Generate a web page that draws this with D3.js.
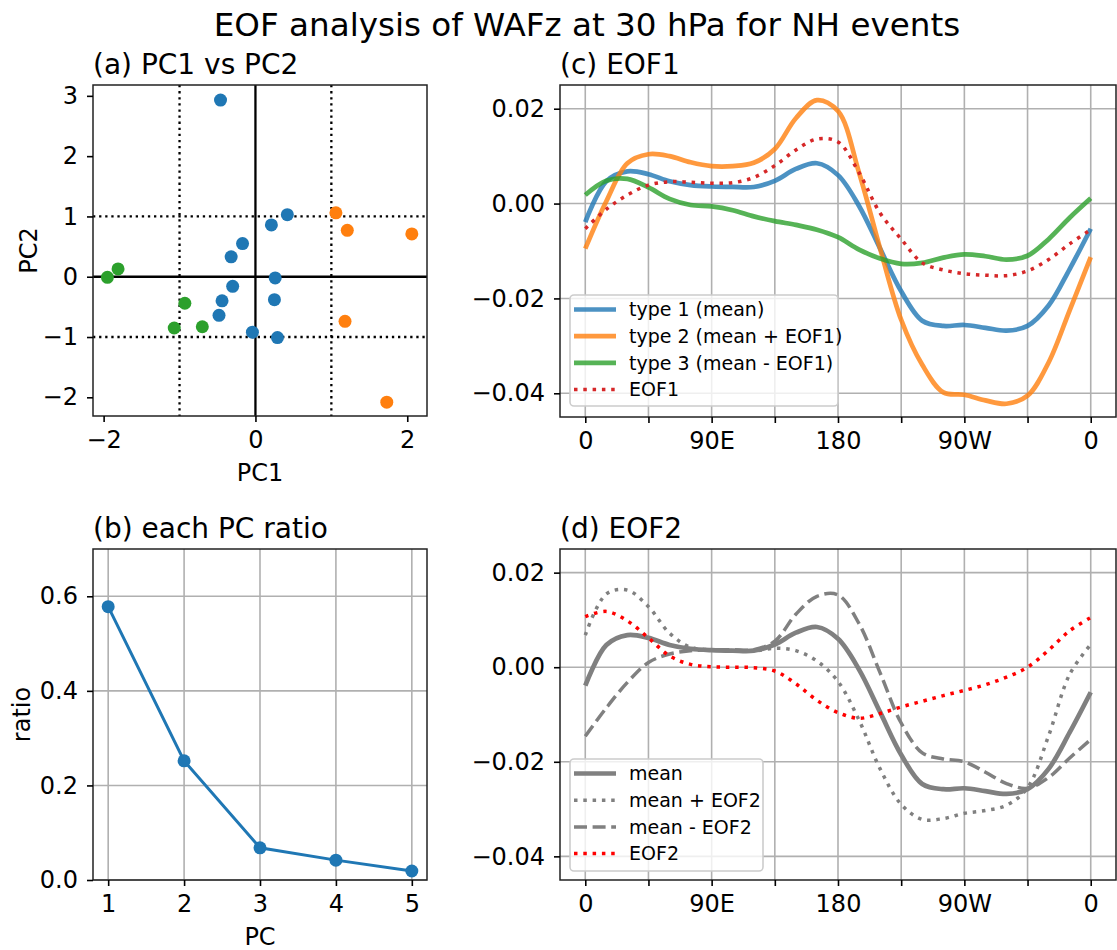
<!DOCTYPE html>
<html>
<head>
<meta charset="utf-8">
<script src="https://cdn.jsdelivr.net/npm/d3@7"></script>
<style>
  body { margin: 0; background: #fff; }
  text { font-family: "DejaVu Sans", sans-serif; fill: #000; }
</style>
</head>
<body>
<svg id="fig" width="1117" height="950"></svg>
<script>
// ---- data ----
var suptitle = "EOF analysis of WAFz at 30 hPa for NH events";
var panelTitles = ["(a) PC1 vs PC2", "(b) each PC ratio", "(c) EOF1", "(d) EOF2"];

// (a) scatter of PC1 / PC2 by event type
var type1PC1 = [-0.46, 0.42, 0.21, -0.17, -0.32, 0.26, -0.30, -0.44, 0.25, -0.48, -0.04, 0.29];
var type1PC2 = [2.93, 1.03, 0.86, 0.55, 0.33, -0.02, -0.16, -0.40, -0.38, -0.64, -0.92, -1.01];
var type2PC1 = [1.06, 1.21, 2.06, 1.18, 1.73];
var type2PC2 = [1.06, 0.77, 0.71, -0.74, -2.08];
var type3PC1 = [-1.95, -1.81, -0.93, -1.07, -0.70];
var type3PC2 = [-0.01, 0.13, -0.44, -0.85, -0.83];

// (b) explained variance ratio
var pcIndex = [1, 2, 3, 4, 5];
var pcRatio = [0.578, 0.252, 0.068, 0.042, 0.019];

// (c),(d) longitude profiles, every 15 degrees
var lons = [0, 15, 30, 45, 60, 75, 90, 105, 120, 135, 150, 165, 180, 195, 210, 225, 240, 255, 270, 285, 300, 315, 330, 345, 360];
var lonTicks = [0, 45, 90, 135, 180, 225, 270, 315, 360];
var lonTickLabels = ["0", "", "90E", "", "180", "", "90W", "", "0"];

var meanVals = [-0.0039, 0.0047, 0.0068, 0.0062, 0.0047, 0.0039, 0.0036, 0.0035, 0.0035, 0.0048, 0.0073, 0.0085, 0.0060,
  -0.0005, -0.0095, -0.0185, -0.0247, -0.0258, -0.0256, -0.0262, -0.0268, -0.0258, -0.0215, -0.0138, -0.0053];
var type2Vals = [-0.0095, 0.0005, 0.0085, 0.0104, 0.0100, 0.0087, 0.0079, 0.0079, 0.0086, 0.0115, 0.0180, 0.0218, 0.0195,
  0.0065, -0.0095, -0.0245, -0.0340, -0.0398, -0.0403, -0.0415, -0.0422, -0.0405, -0.0335, -0.0225, -0.0113];
var type3Vals = [0.0018, 0.0048, 0.0052, 0.0034, 0.0010, -0.0003, -0.0006, -0.0014, -0.0027, -0.0037, -0.0045, -0.0055, -0.0071,
  -0.0097, -0.0116, -0.0127, -0.0125, -0.0114, -0.0107, -0.0111, -0.0118, -0.0110, -0.0075, -0.0030, 0.0011];
var eof1Vals = [-0.0053, -0.0012, 0.0018, 0.0039, 0.0046, 0.0045, 0.0043, 0.0044, 0.0055, 0.0080, 0.0113, 0.0136, 0.0130,
  0.0065, -0.0020, -0.0075, -0.0125, -0.0140, -0.0148, -0.0151, -0.0152, -0.0142, -0.0118, -0.0085, -0.0055];
var plusEof2Vals = [0.0068, 0.0155, 0.0163, 0.0128, 0.0072, 0.0042, 0.0037, 0.0035, 0.0034, 0.0040, 0.0035, 0.0013, -0.0030,
  -0.0112, -0.0215, -0.0290, -0.0322, -0.0320, -0.0309, -0.0303, -0.0292, -0.0255, -0.0145, -0.0015, 0.0048];
var minusEof2Vals = [-0.0146, -0.0086, -0.0032, 0.0010, 0.0028, 0.0035, 0.0037, 0.0037, 0.0037, 0.0055, 0.0112, 0.0150, 0.0153,
  0.0092, -0.0012, -0.0118, -0.0181, -0.0194, -0.0200, -0.0222, -0.0246, -0.0256, -0.0233, -0.0192, -0.0153];
var eof2Vals = [0.0107, 0.0118, 0.0098, 0.0062, 0.0024, 0.0006, 0.0001, 0.0000, -0.0001, -0.0008, -0.0035, -0.0070, -0.0096,
  -0.0108, -0.0098, -0.0084, -0.0072, -0.0060, -0.0049, -0.0037, -0.0021, 0.0000, 0.0036, 0.0077, 0.0105];

var profileTicks = [0.02, 0.00, -0.02, -0.04];

// ---- figure ----
var svg = d3.select('#fig');
var tickFont = 24;
var tickLen = 6, tickPad = 9;
var gridColor = '#b0b0b0';

var blue = '#1f77b4', orange = '#ff7f0e', green = '#2ca02c', red = '#d62728';

// panel boxes [left, top, right, bottom]
var boxA = [93, 85, 427, 416];
var boxB = [93, 549, 427, 880];
var boxC = [560, 85, 1116, 417];
var boxD = [560, 549, 1116, 880];

function styleAxis(g) {
    g.select('.domain').remove();
    g.attr('font-size', tickFont).attr('font-family', 'DejaVu Sans');
    g.selectAll('.tick line').attr('stroke', '#000').attr('stroke-width', 1.6);
    g.selectAll('.tick text').attr('fill', '#000');
}

function drawFrame(box) {
    svg.append('rect')
        .attr('x', box[0]).attr('y', box[1])
        .attr('width', box[2] - box[0]).attr('height', box[3] - box[1])
        .attr('fill', 'none').attr('stroke', '#222').attr('stroke-width', 1.5);
}

function panelTitle(box, txt) {
    svg.append('text')
        .attr('x', box[0]).attr('y', box[1] - 11)
        .attr('font-size', 28)
        .text(txt);
}

function drawGrid(box, x, y, xv, yv) {
    var g = svg.append('g');
    g.selectAll('.gx').data(xv).enter().append('line')
        .attr('x1', function(d) { return x(d); }).attr('x2', function(d) { return x(d); })
        .attr('y1', box[1]).attr('y2', box[3])
        .attr('stroke', gridColor).attr('stroke-width', 1.6);
    g.selectAll('.gy').data(yv).enter().append('line')
        .attr('y1', function(d) { return y(d); }).attr('y2', function(d) { return y(d); })
        .attr('x1', box[0]).attr('x2', box[2])
        .attr('stroke', gridColor).attr('stroke-width', 1.6);
}

// suptitle
svg.append('text')
    .attr('x', 587).attr('y', 36)
    .attr('text-anchor', 'middle')
    .attr('font-size', 32.6)
    .text(suptitle);

// ---------- (a) PC1 vs PC2 ----------
var xA = d3.scaleLinear().domain([-2.14, 2.26]).range([boxA[0], boxA[2]]);
var yA = d3.scaleLinear().domain([-2.31, 3.18]).range([boxA[3], boxA[1]]);

// reference lines
[-1, 1].forEach(function(v) {
    svg.append('line').attr('x1', xA(v)).attr('x2', xA(v)).attr('y1', boxA[1]).attr('y2', boxA[3])
        .attr('stroke', '#000').attr('stroke-width', 2.3).attr('stroke-dasharray', '2.3,3.8');
    svg.append('line').attr('y1', yA(v)).attr('y2', yA(v)).attr('x1', boxA[0]).attr('x2', boxA[2])
        .attr('stroke', '#000').attr('stroke-width', 2.3).attr('stroke-dasharray', '2.3,3.8');
});
svg.append('line').attr('x1', xA(0)).attr('x2', xA(0)).attr('y1', boxA[1]).attr('y2', boxA[3])
    .attr('stroke', '#000').attr('stroke-width', 2.3);
svg.append('line').attr('y1', yA(0)).attr('y2', yA(0)).attr('x1', boxA[0]).attr('x2', boxA[2])
    .attr('stroke', '#000').attr('stroke-width', 2.3);

var groups = [
    { px: type1PC1, py: type1PC2, color: blue },
    { px: type2PC1, py: type2PC2, color: orange },
    { px: type3PC1, py: type3PC2, color: green }
];
groups.forEach(function(gr) {
    svg.append('g').selectAll('circle')
        .data(d3.range(gr.px.length))
        .enter().append('circle')
        .attr('cx', function(i) { return xA(gr.px[i]); })
        .attr('cy', function(i) { return yA(gr.py[i]); })
        .attr('r', 6.5)
        .attr('fill', gr.color);
});

drawFrame(boxA);
svg.append('g').attr('transform', 'translate(0,' + boxA[3] + ')')
    .call(d3.axisBottom(xA).tickValues([-2, 0, 2]).tickFormat(d3.format('d')).tickSize(tickLen).tickPadding(tickPad))
    .call(styleAxis);
svg.append('g').attr('transform', 'translate(' + boxA[0] + ',0)')
    .call(d3.axisLeft(yA).tickValues([-2, -1, 0, 1, 2, 3]).tickFormat(d3.format('d')).tickSize(tickLen).tickPadding(tickPad))
    .call(styleAxis);
panelTitle(boxA, panelTitles[0]);
svg.append('text').attr('x', (boxA[0] + boxA[2]) / 2).attr('y', 481)
    .attr('text-anchor', 'middle').attr('font-size', tickFont).text('PC1');
svg.append('text').attr('transform', 'translate(37,' + ((boxA[1] + boxA[3]) / 2) + ') rotate(-90)')
    .attr('text-anchor', 'middle').attr('font-size', tickFont).text('PC2');

// ---------- (b) each PC ratio ----------
var xB = d3.scaleLinear().domain([0.8, 5.2]).range([boxB[0], boxB[2]]);
var yB = d3.scaleLinear().domain([0, 0.7]).range([boxB[3], boxB[1]]);
drawGrid(boxB, xB, yB, pcIndex, [0, 0.2, 0.4, 0.6]);

var lineB = d3.line()
    .x(function(i) { return xB(pcIndex[i]); })
    .y(function(i) { return yB(pcRatio[i]); });
svg.append('path').datum(d3.range(pcIndex.length))
    .attr('d', lineB).attr('fill', 'none').attr('stroke', blue).attr('stroke-width', 3);
svg.append('g').selectAll('circle')
    .data(d3.range(pcIndex.length))
    .enter().append('circle')
    .attr('cx', function(i) { return xB(pcIndex[i]); })
    .attr('cy', function(i) { return yB(pcRatio[i]); })
    .attr('r', 6.5).attr('fill', blue);

drawFrame(boxB);
svg.append('g').attr('transform', 'translate(0,' + boxB[3] + ')')
    .call(d3.axisBottom(xB).tickValues(pcIndex).tickFormat(d3.format('d')).tickSize(tickLen).tickPadding(tickPad))
    .call(styleAxis);
svg.append('g').attr('transform', 'translate(' + boxB[0] + ',0)')
    .call(d3.axisLeft(yB).tickValues([0, 0.2, 0.4, 0.6]).tickFormat(d3.format('.1f')).tickSize(tickLen).tickPadding(tickPad))
    .call(styleAxis);
panelTitle(boxB, panelTitles[1]);
svg.append('text').attr('x', (boxB[0] + boxB[2]) / 2).attr('y', 945)
    .attr('text-anchor', 'middle').attr('font-size', tickFont).text('PC');
svg.append('text').attr('transform', 'translate(30,' + ((boxB[1] + boxB[3]) / 2) + ') rotate(-90)')
    .attr('text-anchor', 'middle').attr('font-size', tickFont).text('ratio');

// ---------- (c) and (d) profiles ----------
function profilePanel(box, title, series, legendBox) {
    var x = d3.scaleLinear().domain([-18, 378]).range([box[0], box[2]]);
    var y = d3.scaleLinear().domain([-0.045, 0.025]).range([box[3], box[1]]);
    drawGrid(box, x, y, lonTicks, profileTicks);

    var line = d3.line()
        .x(function(d, i) { return x(lons[i]); })
        .y(function(d) { return y(d); })
        .curve(d3.curveCatmullRom.alpha(0.5));

    series.forEach(function(s) {
        svg.append('path').datum(s.values)
            .attr('d', line)
            .attr('fill', 'none')
            .attr('stroke', s.color)
            .attr('stroke-width', s.width)
            .attr('stroke-opacity', s.opacity)
            .attr('stroke-dasharray', s.dash);
    });

    drawFrame(box);
    svg.append('g').attr('transform', 'translate(0,' + box[3] + ')')
        .call(d3.axisBottom(x).tickValues(lonTicks)
            .tickFormat(function(d, i) { return lonTickLabels[i]; })
            .tickSize(tickLen).tickPadding(tickPad))
        .call(styleAxis);
    svg.append('g').attr('transform', 'translate(' + box[0] + ',0)')
        .call(d3.axisLeft(y).tickValues(profileTicks).tickFormat(d3.format('.2f')).tickSize(tickLen).tickPadding(tickPad))
        .call(styleAxis);
    panelTitle(box, title);

    // legend
    var lg = svg.append('g');
    lg.append('rect')
        .attr('x', legendBox[0]).attr('y', legendBox[1])
        .attr('width', legendBox[2] - legendBox[0]).attr('height', legendBox[3] - legendBox[1])
        .attr('rx', 4)
        .attr('fill', '#fff').attr('fill-opacity', 0.8)
        .attr('stroke', '#cccccc').attr('stroke-width', 1.6);
    series.forEach(function(s, i) {
        var yy = legendBox[1] + 14.5 + i * 26.7;
        lg.append('line')
            .attr('x1', legendBox[0] + 4).attr('x2', legendBox[0] + 46)
            .attr('y1', yy).attr('y2', yy)
            .attr('stroke', s.color).attr('stroke-width', s.width)
            .attr('stroke-opacity', s.opacity).attr('stroke-dasharray', s.dash);
        lg.append('text')
            .attr('x', legendBox[0] + 59).attr('y', yy)
            .attr('dy', '0.35em')
            .attr('font-size', 19)
            .text(s.name);
    });
}

profilePanel(boxC, panelTitles[2], [
    { name: 'type 1 (mean)', values: meanVals, color: blue, width: 4.7, opacity: 0.8, dash: null },
    { name: 'type 2 (mean + EOF1)', values: type2Vals, color: orange, width: 4.7, opacity: 0.8, dash: null },
    { name: 'type 3 (mean - EOF1)', values: type3Vals, color: green, width: 4.7, opacity: 0.8, dash: null },
    { name: 'EOF1', values: eof1Vals, color: red, width: 3.5, opacity: 1, dash: '3.5,5.8' }
], [570, 295, 838, 406]);

profilePanel(boxD, panelTitles[3], [
    { name: 'mean', values: meanVals, color: '#808080', width: 4.7, opacity: 1, dash: null },
    { name: 'mean + EOF2', values: plusEof2Vals, color: '#808080', width: 3.5, opacity: 1, dash: '3.5,5.8' },
    { name: 'mean - EOF2', values: minusEof2Vals, color: '#808080', width: 3.5, opacity: 1, dash: '13,5.6' },
    { name: 'EOF2', values: eof2Vals, color: '#ff0000', width: 3.5, opacity: 1, dash: '3.5,5.8' }
], [570, 759, 763, 871]);
</script>
</body>
</html>
